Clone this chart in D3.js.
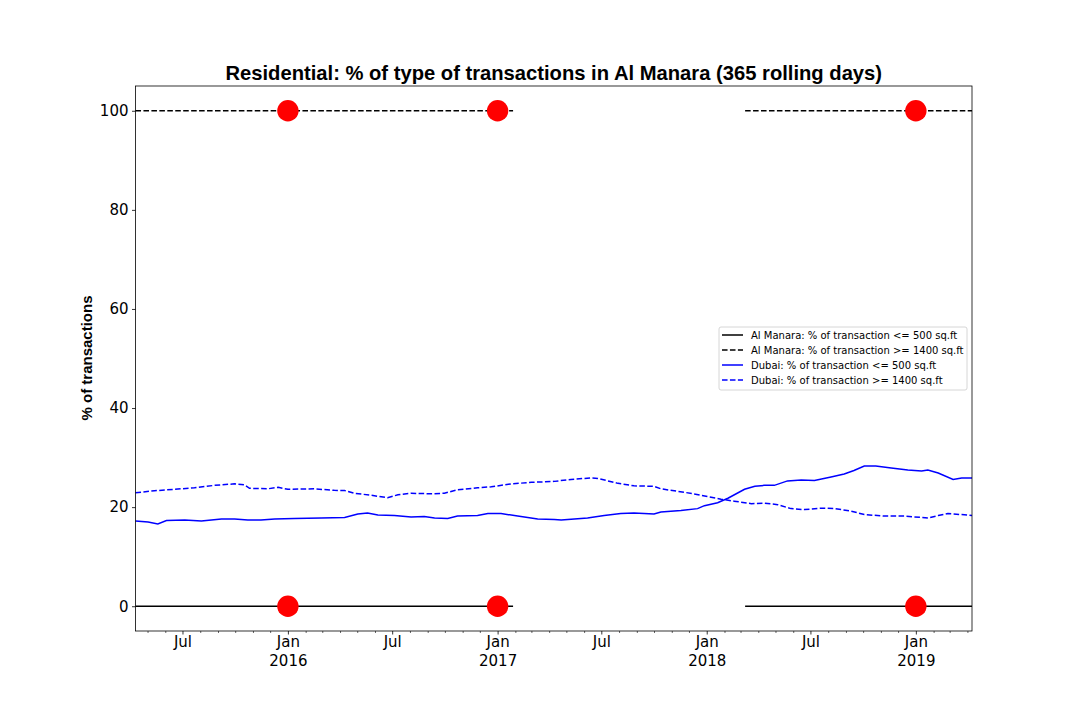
<!DOCTYPE html>
<html>
<head>
<meta charset="utf-8">
<script src="https://cdn.jsdelivr.net/npm/d3@7"></script>
<style>
  body { margin: 0; background: #fff; }
  svg { display: block; }
  .tick text { font-family: "DejaVu Sans", sans-serif; }
</style>
</head>
<body>
<svg width="1080" height="720"></svg>
<script>
let svg = d3.select("svg"),
    width = +svg.attr("width"),
    height = +svg.attr("height");

let parse = d3.timeParse("%Y-%m-%d");

// axes box (matplotlib figure coords)
let box = {left: 135.5, right: 972, top: 86, bottom: 631};

let xStart = "2015-04-10",
    xEnd = "2019-04-09";

// Dubai: % of transaction <= 500 sq.ft
let dubaiSmallDates = ["2015-04-10","2015-05-02","2015-05-19","2015-06-03","2015-07-05","2015-08-03",
    "2015-09-07","2015-09-30","2015-10-23","2015-11-15","2015-12-09","2016-01-12","2016-02-28",
    "2016-04-09","2016-05-02","2016-05-19","2016-06-06","2016-07-05","2016-08-03","2016-08-26",
    "2016-09-13","2016-10-06","2016-10-23","2016-11-27","2016-12-15","2017-01-07","2017-02-05",
    "2017-03-12","2017-04-10","2017-04-22","2017-05-15","2017-06-07","2017-07-06","2017-08-04",
    "2017-08-27","2017-10-01","2017-10-13","2017-11-17","2017-12-16","2017-12-28","2018-01-20",
    "2018-02-07","2018-03-08","2018-03-26","2018-04-12","2018-04-29","2018-05-22","2018-06-15",
    "2018-07-08","2018-08-06","2018-08-29","2018-09-15","2018-10-03","2018-10-23","2018-11-19",
    "2018-12-18","2019-01-11","2019-01-22","2019-02-09","2019-03-07","2019-03-22","2019-04-09"];
let dubaiSmall = [17.2,17.0,16.6,17.3,17.4,17.2,
    17.6,17.6,17.4,17.4,17.6,17.7,17.8,
    17.9,18.6,18.8,18.4,18.3,18.0,18.1,
    17.8,17.7,18.2,18.3,18.7,18.7,18.2,
    17.6,17.5,17.4,17.6,17.8,18.3,18.7,
    18.8,18.6,19.0,19.3,19.7,20.3,20.9,
    21.8,23.6,24.2,24.4,24.4,25.3,25.5,
    25.4,26.1,26.7,27.4,28.3,28.3,27.9,
    27.5,27.3,27.5,26.9,25.6,25.9,25.9];

// Dubai: % of transaction >= 1400 sq.ft
let dubaiLargeDates = ["2015-04-10","2015-05-13","2015-06-17","2015-07-22","2015-08-26","2015-09-30",
    "2015-10-17","2015-10-26","2015-11-27","2015-12-15","2016-01-01","2016-02-16","2016-03-22",
    "2016-04-09","2016-04-26","2016-05-25","2016-06-23","2016-07-11","2016-08-03","2016-09-07",
    "2016-09-30","2016-10-23","2016-11-27","2016-12-21","2017-01-25","2017-03-01","2017-04-10",
    "2017-05-09","2017-06-13","2017-06-25","2017-07-30","2017-08-27","2017-10-01","2017-10-13",
    "2017-11-23","2017-12-22","2018-01-26","2018-02-18","2018-03-20","2018-04-12","2018-05-05",
    "2018-05-28","2018-06-21","2018-07-20","2018-08-12","2018-09-10","2018-10-03","2018-11-07",
    "2018-12-12","2019-01-22","2019-02-09","2019-02-26","2019-03-22","2019-04-09"];
let dubaiLarge = [22.9,23.3,23.6,23.9,24.4,24.7,
    24.5,23.8,23.7,24.0,23.6,23.7,23.4,
    23.35,22.8,22.4,21.9,22.5,22.8,22.7,
    22.8,23.5,23.9,24.1,24.7,25.0,25.2,
    25.6,25.9,25.8,24.8,24.3,24.2,23.7,
    23.0,22.4,21.6,21.2,20.7,20.8,20.5,
    19.7,19.5,19.8,19.7,19.2,18.5,18.2,
    18.2,17.8,18.3,18.7,18.5,18.3];

// Al Manara (null = no data)
let manaraDates = ["2015-04-10","2017-01-28","2017-02-01","2018-03-09","2019-04-09"];
let manaraSmall = [0, 0, null, 0, 0];
let manaraLarge = [100, 100, null, 100, 100];

// single deals shown as red dots
let dotDates = ["2016-01-01","2017-01-01","2019-01-01"];
let dotValues = [0, 100];

let legendLabels = ["Al Manara: % of transaction <= 500 sq.ft",
                    "Al Manara: % of transaction >= 1400 sq.ft",
                    "Dubai: % of transaction <= 500 sq.ft",
                    "Dubai: % of transaction >= 1400 sq.ft"];

let yTicks = [0, 20, 40, 60, 80, 100];

let x = d3.scaleTime()
    .domain([parse(xStart), parse(xEnd)])
    .range([box.left, box.right]);

let y = d3.scaleLinear()
    .domain([-5, 105])
    .range([box.bottom, box.top]);

function toPoints(dates, vals){
    return dates.map((d, i) => ({date: parse(d), v: vals[i]}));
}

let line = d3.line()
    .defined(d => d.v !== null)
    .x(d => x(d.date))
    .y(d => y(d.v));

let series = [
    {pts: toPoints(manaraDates, manaraSmall), color: "black", dash: null},
    {pts: toPoints(manaraDates, manaraLarge), color: "black", dash: "5.55,2.4"},
    {pts: toPoints(dubaiSmallDates, dubaiSmall), color: "blue", dash: null},
    {pts: toPoints(dubaiLargeDates, dubaiLarge), color: "blue", dash: "5.55,2.4"}
];

let plot = svg.append("g").attr("class", "plot");

plot.selectAll("path.series")
    .data(series).enter().append("path")
        .attr("class", "series")
        .attr("d", d => line(d.pts))
        .attr("fill", "none")
        .attr("stroke", d => d.color)
        .attr("stroke-width", 1.5)
        .attr("stroke-dasharray", d => d.dash);

let dots = [];
dotDates.forEach(d => dotValues.forEach(v => dots.push({date: parse(d), v: v})));

plot.selectAll("circle.dot")
    .data(dots).enter().append("circle")
        .attr("class", "dot")
        .attr("cx", d => x(d.date))
        .attr("cy", d => y(d.v))
        .attr("r", 10.7)
        .attr("fill", "red");

// frame
svg.append("rect")
    .attr("x", box.left)
    .attr("y", box.top)
    .attr("width", box.right - box.left)
    .attr("height", box.bottom - box.top)
    .attr("fill", "none")
    .attr("stroke", "black")
    .attr("stroke-width", 0.8);

// y axis
let yAxis = svg.append("g")
    .attr("transform", "translate(" + box.left + ",0)")
    .call(d3.axisLeft(y).tickValues(yTicks).tickSize(3.5).tickSizeOuter(0).tickPadding(3.5));
yAxis.select(".domain").remove();
yAxis.selectAll("text").style("font-size", "15px").attr("fill", "black");
yAxis.selectAll("line").attr("stroke-width", 0.8);

// x axis: monthly minor ticks, Jan/Jul major
let months = d3.timeMonth.range(d3.timeMonth.ceil(parse(xStart)), parse(xEnd), 1);
let majors = months.filter(m => m.getMonth() === 0 || m.getMonth() === 6);
let minors = months.filter(m => m.getMonth() !== 0 && m.getMonth() !== 6);

let xMinor = svg.append("g")
    .attr("transform", "translate(0," + box.bottom + ")")
    .call(d3.axisBottom(x).tickValues(minors).tickSize(2).tickSizeOuter(0).tickFormat(""));
xMinor.select(".domain").remove();
xMinor.selectAll("line").attr("stroke-width", 0.6);

let xMajor = svg.append("g")
    .attr("transform", "translate(0," + box.bottom + ")")
    .call(d3.axisBottom(x).tickValues(majors).tickSize(3.5).tickSizeOuter(0).tickFormat(""));
xMajor.select(".domain").remove();
xMajor.selectAll("line").attr("stroke-width", 0.8);

let fmtMonth = d3.timeFormat("%b"),
    fmtYear = d3.timeFormat("%Y");
xMajor.selectAll(".tick").each(function(d){
    let t = d3.select(this).append("text")
        .attr("fill", "black")
        .attr("text-anchor", "middle")
        .style("font-size", "15px");
    t.append("tspan").attr("x", 0).attr("y", 16).text(fmtMonth(d));
    if (d.getMonth() === 0){
        t.append("tspan").attr("x", 0).attr("y", 35).text(fmtYear(d));
    }
});

// title and label
svg.append("text")
    .attr("x", (box.left + box.right) / 2)
    .attr("y", 80)
    .attr("text-anchor", "middle")
    .style("font-family", "'Liberation Sans', Arial, sans-serif")
    .style("font-weight", "bold")
    .style("font-size", "20.2px")
    .text("Residential: % of type of transactions in Al Manara (365 rolling days)");

svg.append("text")
    .attr("transform", "translate(92,358) rotate(-90)")
    .attr("text-anchor", "middle")
    .style("font-family", "'Liberation Sans', Arial, sans-serif")
    .style("font-weight", "bold")
    .style("font-size", "15px")
    .text("% of transactions");

// legend
let legend = svg.append("g")
    .attr("class", "legend")
    .attr("transform", "translate(719,327)");

legend.append("rect")
    .attr("width", 248)
    .attr("height", 63)
    .attr("rx", 2)
    .attr("fill", "white")
    .attr("fill-opacity", 0.8)
    .attr("stroke", "#cccccc")
    .attr("stroke-width", 0.8);

let rows = legend.selectAll("g.row")
    .data(series).enter().append("g")
        .attr("class", "row")
        .attr("transform", (d, i) => "translate(0," + (8 + i * 15) + ")");

rows.append("line")
    .attr("x1", 3).attr("x2", 24)
    .attr("y1", 0).attr("y2", 0)
    .attr("stroke", d => d.color)
    .attr("stroke-width", 1.5)
    .attr("stroke-dasharray", d => d.dash);

rows.append("text")
    .attr("x", 32)
    .attr("y", 3.5)
    .style("font-family", "'DejaVu Sans', sans-serif")
    .style("font-size", "10px")
    .text((d, i) => legendLabels[i]);
</script>
</body>
</html>
